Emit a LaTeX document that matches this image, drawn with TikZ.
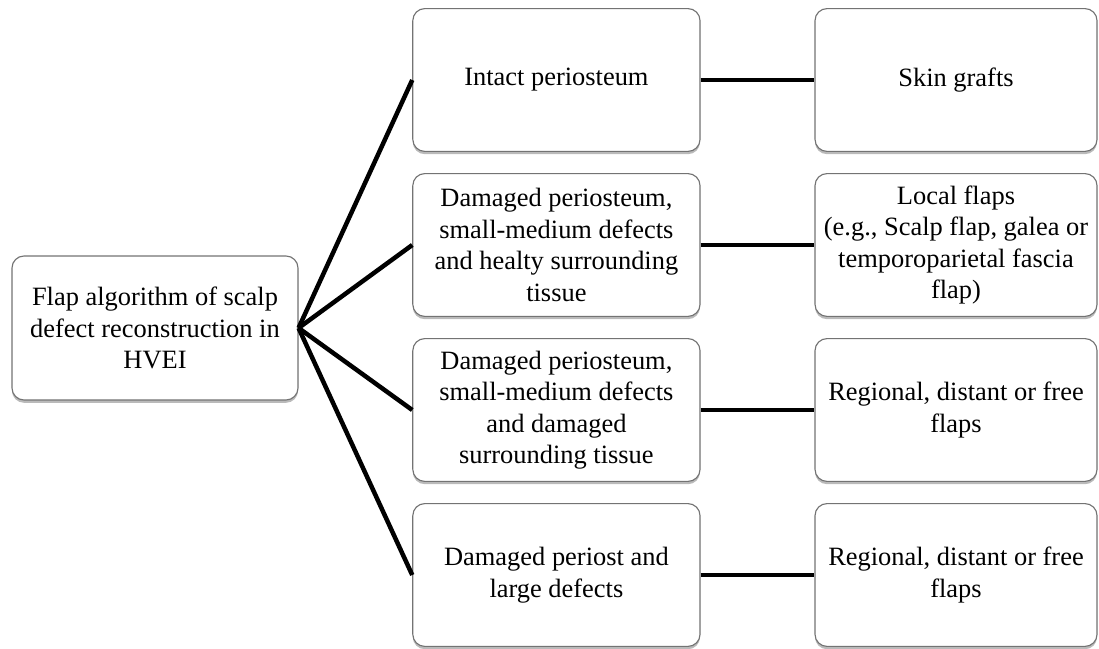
\documentclass[tikz,border=0pt]{standalone}
\usepackage{fontspec}
\setmainfont{Liberation Serif}
\usetikzlibrary{shadows}

\begin{document}
\begin{tikzpicture}
	\tikzset{
	  box/.style={draw=black!55,line width=0.8pt,rounded corners=0.3cm,fill=white,
	    align=center,inner sep=2pt,font=\fontsize{18.8}{22.4}\selectfont,
	    drop shadow={shadow xshift=0pt,shadow yshift=-0.07cm,opacity=0.45,fill=black!60}},
	  leftbox/.style={box,minimum width=7.15cm,minimum height=3.6cm},
	  midbox/.style={box,minimum width=7.18cm,minimum height=3.57cm},
	  rightbox/.style={box,minimum width=7.05cm,minimum height=3.57cm},
	  link/.style={line width=3.2pt,black}
	}
  \useasboundingbox (0,0) rectangle (27.475,-16.225);

  \node[leftbox] (algo) at (3.875,-8.2) {Flap algorithm of scalp\\ defect reconstruction in\\ HVEI};

  \node[midbox] (intact) at (13.91,-2) {Intact periosteum};
  \node[midbox] (healthy) at (13.91,-6.125) {Damaged periosteum,\\ small-medium defects\\ and healty surrounding\\ tissue};
  \node[midbox] (damaged) at (13.91,-10.25) {Damaged periosteum,\\ small-medium defects\\ and damaged\\ surrounding tissue};
  \node[midbox] (large) at (13.91,-14.375) {Damaged periost and\\ large defects};

  \node[rightbox] (grafts) at (23.9,-2) {Skin grafts};
  \node[rightbox] (local) at (23.9,-6.125) {Local flaps\\ (e.g., Scalp flap, galea or\\ temporoparietal fascia\\ flap)};
  \node[rightbox] (regional) at (23.9,-10.25) {Regional, distant or free\\ flaps};
  \node[rightbox] (free) at (23.9,-14.375) {Regional, distant or free\\ flaps};

  \draw[link] (algo.east) -- (intact.west);
  \draw[link] (algo.east) -- (healthy.west);
  \draw[link] (algo.east) -- (damaged.west);
  \draw[link] (algo.east) -- (large.west);

  \draw[link] (intact) -- (grafts);
  \draw[link] (healthy) -- (local);
  \draw[link] (damaged) -- (regional);
  \draw[link] (large) -- (free);

\end{tikzpicture}
\end{document}
